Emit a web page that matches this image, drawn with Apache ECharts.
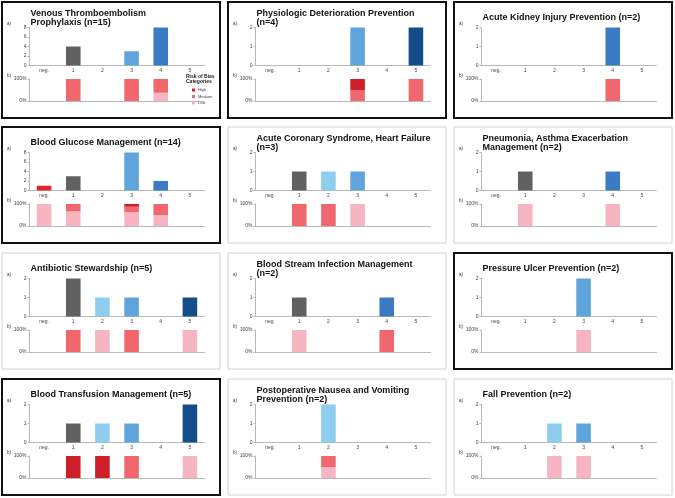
<!DOCTYPE html>
<html><head><meta charset="utf-8">
<script src="https://cdn.jsdelivr.net/npm/echarts@6/dist/echarts.min.js"></script>
<style>html,body{margin:0;padding:0;background:#fff}#c{width:675px;height:498px}</style>
</head><body><div id="c"></div>
<script>
const categories = ['neg.', '1', '2', '3', '4', '5'];
const titles = [
  'Venous Thromboembolism\nProphylaxis (n=15)',
  'Physiologic Deterioration Prevention\n(n=4)',
  'Acute Kidney Injury Prevention (n=2)',
  'Blood Glucose Management (n=14)',
  'Acute Coronary Syndrome, Heart Failure\n(n=3)',
  'Pneumonia, Asthma Exacerbation\nManagement (n=2)',
  'Antibiotic Stewardship (n=5)',
  'Blood Stream Infection Management\n(n=2)',
  'Pressure Ulcer Prevention (n=2)',
  'Blood Transfusion Management (n=5)',
  'Postoperative Nausea and Vomiting\nPrevention (n=2)',
  'Fall Prevention (n=2)'
];
const counts = [
  [0, 4, 0, 3, 8, 0],
  [0, 0, 0, 2, 0, 2],
  [0, 0, 0, 0, 2, 0],
  [1, 3, 0, 8, 2, 0],
  [0, 1, 1, 1, 0, 0],
  [0, 1, 0, 0, 1, 0],
  [0, 2, 1, 1, 0, 1],
  [0, 1, 0, 0, 1, 0],
  [0, 0, 0, 2, 0, 0],
  [0, 1, 1, 1, 0, 2],
  [0, 0, 2, 0, 0, 0],
  [0, 0, 1, 1, 0, 0]
];
const countAxisMax = [8, 2, 2, 8, 2, 2, 2, 2, 2, 2, 2, 2];
const countAxisStep = [2, 1, 1, 2, 1, 1, 1, 1, 1, 1, 1, 1];
const riskLow = [
  [0, 0, 0, 0, 37.5, 0],
  [0, 0, 0, 0, 0, 0],
  [0, 0, 0, 0, 0, 0],
  [100, 66.7, 0, 62.5, 50, 0],
  [0, 0, 0, 100, 0, 0],
  [0, 100, 0, 0, 100, 0],
  [0, 0, 100, 0, 0, 100],
  [0, 100, 0, 0, 0, 0],
  [0, 0, 0, 100, 0, 0],
  [0, 0, 0, 0, 0, 100],
  [0, 0, 50, 0, 0, 0],
  [0, 0, 100, 100, 0, 0]
];
const riskMedium = [
  [0, 100, 0, 100, 62.5, 0],
  [0, 0, 0, 50, 0, 100],
  [0, 0, 0, 0, 100, 0],
  [0, 33.3, 0, 25, 50, 0],
  [0, 100, 100, 0, 0, 0],
  [0, 0, 0, 0, 0, 0],
  [0, 100, 0, 100, 0, 0],
  [0, 0, 0, 0, 100, 0],
  [0, 0, 0, 0, 0, 0],
  [0, 0, 0, 100, 0, 0],
  [0, 0, 50, 0, 0, 0],
  [0, 0, 0, 0, 0, 0]
];
const riskHigh = [
  [0, 0, 0, 0, 0, 0],
  [0, 0, 0, 50, 0, 0],
  [0, 0, 0, 0, 0, 0],
  [0, 0, 0, 12.5, 0, 0],
  [0, 0, 0, 0, 0, 0],
  [0, 0, 0, 0, 0, 0],
  [0, 0, 0, 0, 0, 0],
  [0, 0, 0, 0, 0, 0],
  [0, 0, 0, 0, 0, 0],
  [0, 100, 100, 0, 0, 0],
  [0, 0, 0, 0, 0, 0],
  [0, 0, 0, 0, 0, 0]
];
const categoryColors = ['#e3232b', '#616161', '#8fcdf0', '#5fa5db', '#3b7bc4', '#134d8a'];
const riskColors = { High: '#cc1f2b', Medium: '#f0676d', Low: '#f6b5c1' };
const emphasised = [true, true, true, true, false, false, false, false, true, true, false, false];

const colX = [2, 228, 454];
const rowY = [2, 127, 253, 379];
const panelW = 218, panelH = 116;
const FONT = 'Liberation Sans, Arial, sans-serif';

const grids = [], xAxes = [], yAxes = [], series = [], graphics = [];
const nz = v => (v === 0 ? null : v);

titles.forEach((t, i) => {
  const r = Math.floor(i / 3), c = i % 3;
  const px = colX[c], py = rowY[r];
  const gA = grids.length, gB = gA + 1;
  grids.push({ left: px + 27.5, top: py + 25.5, width: 175, height: 38, outerBoundsMode: 'none' });
  grids.push({ left: px + 27.5, top: py + 77, width: 175, height: 22, outerBoundsMode: 'none' });
  const axisLine = { show: true, lineStyle: { color: '#b8b8b8', width: 1 } };
  xAxes.push({ type: 'category', gridIndex: gA, data: categories, axisLine,
    axisTick: { show: false }, axisLabel: { fontSize: 5, color: '#444', margin: 3, fontFamily: FONT, interval: 0 } });
  xAxes.push({ type: 'category', gridIndex: gB, data: categories, axisLine,
    axisTick: { show: false }, axisLabel: { show: false } });
  yAxes.push({ type: 'value', gridIndex: gA, min: 0, max: countAxisMax[i], interval: countAxisStep[i],
    axisLine, axisTick: { show: true, length: 2, lineStyle: { color: '#b8b8b8' } }, splitLine: { show: false },
    axisLabel: { fontSize: 5, color: '#444', margin: 3, fontFamily: FONT } });
  yAxes.push({ type: 'value', gridIndex: gB, min: 0, max: 100, interval: 100,
    axisLine, axisTick: { show: true, length: 2, lineStyle: { color: '#b8b8b8' } }, splitLine: { show: false },
    axisLabel: { fontSize: 5, color: '#444', margin: 3, fontFamily: FONT, formatter: '{value}%' } });
  series.push({ type: 'bar', xAxisIndex: gA, yAxisIndex: gA, barWidth: '50%', silent: true,
    data: counts[i].map((v, k) => ({ value: nz(v), itemStyle: { color: categoryColors[k] } })) });
  [['Low', riskLow], ['Medium', riskMedium], ['High', riskHigh]].forEach(([name, arr]) => {
    series.push({ type: 'bar', name, stack: 'risk' + i, xAxisIndex: gB, yAxisIndex: gB, barWidth: '50%', silent: true,
      itemStyle: { color: riskColors[name] }, data: arr[i].map(nz) });
  });
  graphics.push({ type: 'rect', shape: { x: px, y: py, width: panelW, height: panelH },
    style: { fill: 'none', stroke: emphasised[i] ? '#111' : '#d2d2d2', lineWidth: emphasised[i] ? 2 : 1 }, silent: true });
  const lines = t.split('\n').length;
  graphics.push({ type: 'text', x: px + 28.5, y: py + (lines === 1 ? 16 : 16),
    style: { text: t, fontSize: 9, fontWeight: 'bold', fontFamily: FONT, fill: '#111', lineHeight: 9, verticalAlign: 'middle', align: 'left' } });
  graphics.push({ type: 'text', x: px + 5, y: py + 22, style: { text: 'a)', fontSize: 4.5, fontFamily: FONT, fill: '#333', verticalAlign: 'middle' } });
  graphics.push({ type: 'text', x: px + 5, y: py + 74, style: { text: 'b)', fontSize: 4.5, fontFamily: FONT, fill: '#333', verticalAlign: 'middle' } });
});

graphics.push({ type: 'text', x: 186, y: 79, style: { text: 'Risk of Bias\nCategories', fontSize: 5, fontWeight: 'bold', fontFamily: FONT, fill: '#222', lineHeight: 5.5, verticalAlign: 'middle' } });

const option = {
  animation: false,
  backgroundColor: '#fff',
  grid: grids, xAxis: xAxes, yAxis: yAxes, series,
  legend: { data: ['High', 'Medium', 'Low'], orient: 'vertical', left: 192, top: 88, itemWidth: 3, itemHeight: 3, itemGap: 2.5,
    padding: 0, icon: 'rect', textStyle: { fontSize: 4, color: '#444', fontFamily: FONT, padding: [0, 0, 0, -2] }, selectedMode: false },
  graphic: graphics
};
const chart = echarts.init(document.getElementById('c'), null, { renderer: 'canvas' });
chart.setOption(option);
</script></body></html>
